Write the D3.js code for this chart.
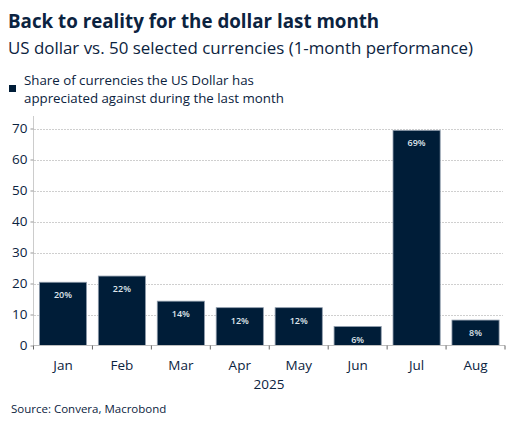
<!DOCTYPE html>
<html><head><meta charset="utf-8">
<script src="https://cdn.jsdelivr.net/npm/d3@7"></script>
<style>body{margin:0;background:#fff}svg{display:block;font-family:"Open Sans",sans-serif}</style>
</head><body><svg id="c" width="520" height="427"></svg>
<script>
const months = ["Jan","Feb","Mar","Apr","May","Jun","Jul","Aug"];
const shares = [20.4,22.4,14.3,12.2,12.2,6.1,69.4,8.2];
const barLabels = ["20%","22%","14%","12%","12%","6%","69%","8%"];
const yTicks = [0,10,20,30,40,50,60,70];

const svg = d3.select("#c");
const navy = "#0b2340", bar = "#001d38";
const x = d3.scaleBand().domain(months).range([33.5,505]).paddingInner(0.2).paddingOuter(0.1);
const y = d3.scaleLinear().domain([0,70]).range([345.5,128.5]);

svg.append("text").attr("x",8).attr("y",28).attr("font-size",18.75).attr("font-weight",700).attr("fill",navy).text("Back to reality for the dollar last month");
svg.append("text").attr("x",8).attr("y",54).attr("font-size",16.9).attr("fill",navy).text("US dollar vs. 50 selected currencies (1-month performance)");
svg.append("rect").attr("x",9).attr("y",85).attr("width",7).attr("height",7).attr("fill",bar);
svg.append("text").attr("x",24).attr("y",85).attr("font-size",13.3).attr("fill",navy).text("Share of currencies the US Dollar has");
svg.append("text").attr("x",24).attr("y",103).attr("font-size",13.3).attr("fill",navy).text("appreciated against during the last month");

// grid
svg.append("g").selectAll("line").data(yTicks.filter(d=>d>0)).join("line")
  .attr("x1",34).attr("x2",503).attr("y1",d=>Math.round(y(d))+0.5).attr("y2",d=>Math.round(y(d))+0.5)
  .attr("stroke","#cfcfcf").attr("stroke-dasharray","2,1");

// y axis
const ya = svg.append("g").attr("transform","translate(33.5,0)").call(d3.axisLeft(y).tickValues(yTicks).tickSize(3).tickPadding(3));
ya.select(".domain").attr("stroke","#cccccc").attr("d","M0,116V345.5");
ya.selectAll(".tick line").attr("stroke","#999");
ya.selectAll(".tick text").attr("font-size",13.5).attr("fill",navy).attr("font-family","Open Sans");

// bars
svg.append("g").selectAll("rect").data(months).join("rect")
  .attr("x",d=>x(d)).attr("width",x.bandwidth())
  .attr("y",(d,i)=>y(shares[i])).attr("height",(d,i)=>y(0)-y(shares[i]))
  .attr("fill",bar).attr("stroke","#8e9bab").attr("stroke-width",0.8);
svg.append("g").selectAll("text").data(months).join("text")
  .attr("x",d=>x(d)+x.bandwidth()/2).attr("y",(d,i)=>y(shares[i])+16)
  .attr("text-anchor","middle").attr("font-size",9).attr("font-weight",600).attr("fill","#dfe5ec")
  .text((d,i)=>barLabels[i]);

// x axis
const xa = svg.append("g").attr("transform","translate(0,345.5)");
xa.append("line").attr("x1",33.5).attr("x2",505).attr("stroke","#bfbfbf");
xa.selectAll("line.t").data(months.concat(["end"])).join("line").attr("class","t")
  .attr("x1",(d,i)=>33.5+i*(505-33.5)/months.length).attr("x2",(d,i)=>33.5+i*(505-33.5)/months.length)
  .attr("y1",0).attr("y2",4).attr("stroke","#666");
xa.selectAll("text").data(months).join("text")
  .attr("x",d=>x(d)+x.bandwidth()/2).attr("y",24).attr("text-anchor","middle")
  .attr("font-size",13.5).attr("fill",navy).text(d=>d);
svg.append("text").attr("x",269).attr("y",389).attr("text-anchor","middle").attr("font-size",13.5).attr("fill",navy).text("2025");
svg.append("text").attr("x",11).attr("y",413).attr("font-size",11.5).attr("fill",navy).text("Source: Convera, Macrobond");
</script></body></html>
